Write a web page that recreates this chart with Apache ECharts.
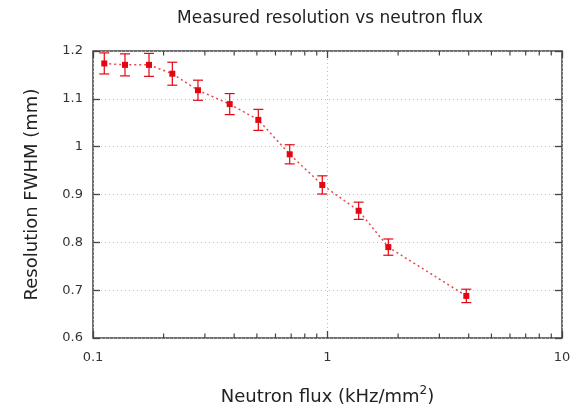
<!DOCTYPE html>
<html>
<head>
<meta charset="utf-8">
<script src="https://cdn.jsdelivr.net/npm/echarts@6/dist/echarts.min.js"></script>
<style>html,body{margin:0;padding:0;background:#fff}#c{width:580px;height:411px}</style>
</head>
<body>
<div id="c"></div>
<script>
var flux = [0.1117, 0.1369, 0.1733, 0.2179, 0.2803, 0.3828, 0.507, 0.690, 0.950, 1.358, 1.817, 3.908];
var fwhm = [1.174, 1.171, 1.171, 1.1525, 1.118, 1.089, 1.056, 0.984, 0.920, 0.866, 0.790, 0.688];
var fwhmErr = [0.022, 0.023, 0.024, 0.024, 0.021, 0.022, 0.022, 0.020, 0.019, 0.018, 0.017, 0.014];
var minorTicks = [0.2, 0.3, 0.4, 0.5, 0.6, 0.7, 0.8, 0.9, 2, 3, 4, 5, 6, 7, 8, 9];
var titleText = 'Measured resolution vs neutron flux';
var xName = 'Neutron flux (kHz/mm{sup|2})';
var yName = 'Resolution FWHM (mm)';

var RED = '#e30613';
var FONT = 'DejaVu Sans';

var pts = flux.map(function (x, i) { return [x, fwhm[i]]; });
var errData = flux.map(function (x, i) { return [x, fwhm[i] - fwhmErr[i], fwhm[i] + fwhmErr[i]]; });

var chart = echarts.init(document.getElementById('c'), null, {renderer: 'canvas'});
chart.setOption({
  animation: false,
  title: {
    text: titleText, left: 325, top: 5, textAlign: 'center',
    textStyle: {fontFamily: FONT, fontSize: 17, fontWeight: 'normal', color: '#222'}
  },
  grid: {left: 93, right: 18, top: 51, bottom: 73, show: true, borderColor: '#444', borderWidth: 1.5, backgroundColor: 'transparent'},
  xAxis: [{
    type: 'log', logBase: 10, min: 0.1, max: 10, position: 'bottom',
    name: xName, nameLocation: 'middle', nameGap: 47,
    nameTextStyle: {fontFamily: FONT, fontSize: 18, color: '#222', rich: {sup: {fontFamily: FONT, fontSize: 12, verticalAlign: 'top', padding: [0, 0, 12, 0], color: '#222'}}},
    axisLine: {show: false},
    axisTick: {show: true, inside: true, length: 7, lineStyle: {color: '#444', width: 1.3}},
    axisLabel: {fontFamily: FONT, fontSize: 13, color: '#333', margin: 13},
    splitLine: {show: true, lineStyle: {color: '#bbb', type: [1, 3], width: 1}}
  }, {
    type: 'log', logBase: 10, min: 0.1, max: 10, position: 'top',
    axisLine: {show: false},
    axisTick: {show: true, inside: true, length: 7, lineStyle: {color: '#444', width: 1.3}},
    axisLabel: {show: false}, splitLine: {show: false}
  }],
  yAxis: [{
    type: 'value', min: 0.6, max: 1.2, interval: 0.1, position: 'left',
    name: yName, nameLocation: 'middle', nameGap: 52,
    nameTextStyle: {fontFamily: FONT, fontSize: 18, color: '#222'},
    axisLine: {show: false},
    axisTick: {show: true, inside: true, length: 7, lineStyle: {color: '#444', width: 1.3}},
    axisLabel: {fontFamily: FONT, fontSize: 13, color: '#333', margin: 10},
    splitLine: {show: true, lineStyle: {color: '#bbb', type: [1, 3], width: 1}}
  }, {
    type: 'value', min: 0.6, max: 1.2, interval: 0.1, position: 'right',
    axisLine: {show: false},
    axisTick: {show: true, inside: true, length: 7, lineStyle: {color: '#444', width: 1.3}},
    axisLabel: {show: false}, splitLine: {show: false}
  }],
  series: [{
    type: 'custom', xAxisIndex: 0, yAxisIndex: 0, silent: true, clip: false,
    data: minorTicks.map(function (v) { return [v]; }),
    renderItem: function (params, api) {
      var b = api.coord([api.value(0), 0.6]);
      var t = api.coord([api.value(0), 1.2]);
      return {type: 'group', children: [
        {type: 'line', shape: {x1: b[0], y1: b[1], x2: b[0], y2: b[1] - 4.5}, style: {stroke: '#444', lineWidth: 1.2}},
        {type: 'line', shape: {x1: t[0], y1: t[1], x2: t[0], y2: t[1] + 4.5}, style: {stroke: '#444', lineWidth: 1.2}}
      ]};
    }
  }, {
    type: 'line', xAxisIndex: 0, yAxisIndex: 0, data: pts,
    symbol: 'rect', symbolSize: 6, showSymbol: true,
    itemStyle: {color: RED},
    lineStyle: {color: '#e84a4a', width: 1.5, type: [2, 3]},
    z: 3
  }, {
    type: 'custom', xAxisIndex: 0, yAxisIndex: 0, data: errData, z: 4, clip: false,
    renderItem: function (params, api) {
      var x = api.value(0);
      var lo = api.coord([x, api.value(1)]);
      var hi = api.coord([x, api.value(2)]);
      var w = 5;
      var st = {stroke: RED, lineWidth: 1.2};
      return {type: 'group', children: [
        {type: 'line', shape: {x1: lo[0], y1: lo[1], x2: hi[0], y2: hi[1]}, style: st},
        {type: 'line', shape: {x1: lo[0] - w, y1: lo[1], x2: lo[0] + w, y2: lo[1]}, style: st},
        {type: 'line', shape: {x1: hi[0] - w, y1: hi[1], x2: hi[0] + w, y2: hi[1]}, style: st}
      ]};
    }
  }]
});
</script>
</body>
</html>
